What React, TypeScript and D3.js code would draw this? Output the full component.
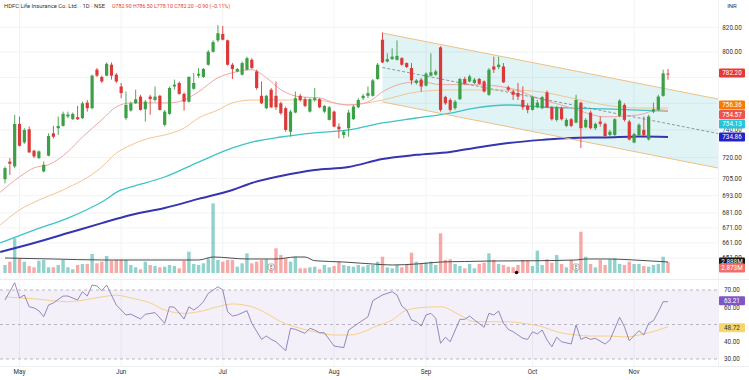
import React from 'react';
import * as d3 from 'd3';

const W = 749;
const H = 380;

const opens = [704.4,716.9,713.5,744.5,730.8,740.5,724.8,719.5,709.9,721.2,737.5,741.3,743.0,750.0,748.0,749.5,748.8,760.5,756.3,786.0,780.3,781.3,789.9,782.1,772.9,748.8,754.5,760.0,765.1,755.5,765.1,762.5,765.7,743.8,752.0,772.9,775.6,767.2,761.2,771.1,781.3,780.3,789.9,800.2,809.4,814.6,809.4,789.9,784.6,782.1,786.0,793.8,784.6,765.7,756.3,770.4,765.7,760.0,756.3,738.7,753.0,765.7,763.1,753.7,762.5,763.1,753.7,747.5,753.7,742.5,736.3,741.3,748.0,757.0,763.9,765.7,765.7,778.7,809.9,792.4,794.3,793.8,795.1,791.2,787.3,775.6,778.2,773.5,781.3,782.1,803.7,764.9,762.5,756.3,763.1,778.7,776.8,775.6,778.7,776.8,766.5,788.5,788.1,788.5,772.2,769.0,767.8,762.5,758.0,755.0,757.0,756.3,768.3,757.0,747.5,756.3,743.0,748.0,745.5,760.5,742.0,753.0,741.3,746.2,744.5,736.3,736.3,750.5,758.8,746.2,730.8,736.3,740.0,733.0,753.7,755.0,765.7,782.9];
const highs = [713.5,719.5,751.3,750.0,741.3,742.5,725.5,725.0,717.1,737.5,743.0,750.0,753.7,753.7,753.0,758.0,761.2,762.5,782.1,787.3,781.3,791.7,791.7,783.4,775.6,769.0,761.2,770.4,766.5,762.5,766.5,772.9,766.5,755.0,772.9,778.2,776.8,768.3,780.7,783.4,787.3,787.3,801.6,809.4,821.8,821.1,809.9,791.2,787.3,792.4,796.3,795.1,786.0,776.8,766.5,771.7,776.8,761.2,757.5,755.0,769.0,767.2,764.7,763.9,771.7,763.9,758.8,758.0,754.5,745.0,740.0,755.0,758.8,763.9,767.2,772.9,778.7,791.2,815.8,799.0,802.9,809.4,795.9,791.7,791.2,778.7,779.5,783.9,799.0,786.0,804.7,765.7,763.9,762.5,779.5,780.3,782.1,779.5,779.5,777.6,787.3,796.3,796.3,791.2,773.5,770.4,775.6,772.9,760.0,765.7,762.5,765.7,769.8,758.0,758.0,757.5,748.8,748.8,766.5,761.2,748.8,754.5,745.5,750.0,745.5,740.0,748.8,763.1,760.0,747.5,738.0,745.0,750.0,751.3,760.5,766.5,786.0,786.5];
const lows = [701.5,707.5,712.3,727.9,729.8,723.1,719.5,718.8,709.2,720.7,733.8,736.3,742.5,748.8,747.5,747.5,748.0,753.7,755.5,780.3,775.6,780.7,778.2,775.6,763.9,747.5,753.7,759.5,754.5,746.2,751.3,761.2,754.5,742.5,751.3,770.4,766.5,754.5,760.5,770.4,779.5,779.5,789.1,799.5,808.0,809.4,789.1,778.7,783.9,781.3,785.4,786.5,770.4,759.5,755.5,756.3,755.0,751.3,738.7,735.0,752.5,761.2,757.0,753.0,761.2,756.3,752.5,747.0,742.0,733.8,733.8,735.0,747.5,756.3,762.5,763.9,765.1,778.2,791.2,791.7,793.8,793.2,789.1,787.3,774.3,774.3,769.0,772.9,780.7,781.3,753.7,758.8,753.7,755.0,762.5,774.3,776.1,774.8,774.3,768.3,765.7,783.4,786.5,775.6,769.0,762.5,762.5,755.0,752.5,754.5,756.3,755.5,756.3,747.0,746.2,747.0,742.0,742.0,745.0,726.7,741.3,740.5,740.0,742.5,735.0,735.0,735.5,749.5,746.2,732.2,730.3,735.5,735.5,732.2,752.5,754.5,765.1,778.1];
const closes = [712.3,715.4,744.5,728.4,740.0,723.6,720.7,724.3,714.7,735.5,735.0,743.0,752.0,751.5,752.0,748.0,760.0,756.3,781.3,781.3,776.8,790.6,781.3,776.8,767.8,758.8,760.0,763.1,755.0,761.2,763.3,765.1,755.0,753.7,771.7,774.3,767.2,761.2,780.3,775.6,782.8,786.5,800.2,808.0,815.1,809.9,789.9,786.5,786.5,791.2,795.1,787.3,771.7,760.0,765.7,757.0,757.0,752.5,740.0,753.7,763.9,762.5,758.0,763.1,763.9,757.0,758.0,757.0,742.5,740.5,738.7,753.0,757.5,762.5,765.7,767.8,777.6,789.9,791.7,794.3,796.3,796.9,789.9,788.1,777.6,777.6,772.9,782.8,783.9,784.6,755.0,760.0,755.0,761.2,778.7,775.0,780.7,778.2,775.0,769.0,786.0,786.0,789.9,776.1,770.4,766.5,765.1,757.0,755.0,764.7,760.5,764.7,757.0,748.0,757.0,748.0,747.5,743.0,762.5,741.3,747.5,741.3,744.5,744.5,735.5,738.7,748.0,762.0,747.5,733.0,737.0,743.8,736.3,750.0,755.5,765.1,783.1,782.2];
const volumes = [2.10,2.96,9.09,3.85,2.96,1.83,1.49,3.22,3.41,1.49,1.49,2.10,3.41,1.49,0.97,2.10,2.36,2.36,4.98,2.54,2.96,4.45,3.22,3.41,3.41,3.41,2.10,1.49,0.97,2.96,2.10,1.83,1.49,1.65,2.10,1.83,1.23,3.22,5.58,2.36,2.10,2.54,3.85,18.26,3.41,2.96,3.41,3.41,1.65,2.54,5.16,2.54,2.96,3.41,3.59,1.65,6.47,4.72,3.85,2.96,4.27,1.23,1.23,1.49,1.65,0.97,2.10,1.49,1.83,2.96,2.10,1.83,1.65,2.10,1.65,2.10,2.10,2.96,4.27,1.49,1.23,2.10,1.49,2.10,5.32,2.96,2.36,2.70,2.96,2.10,10.40,3.41,3.59,2.36,1.83,1.23,2.36,1.23,2.36,2.70,5.16,3.41,2.36,2.10,1.65,1.49,2.10,3.41,3.22,1.83,5.84,2.10,3.59,2.70,4.72,2.36,1.49,3.41,2.36,10.82,4.27,2.36,1.49,3.41,2.10,3.59,3.85,2.36,2.10,2.96,2.36,2.36,1.83,1.65,2.10,2.36,4.27,2.873];

// moving averages: [bar index, value]
const ema20: [number, number][] = [[-1,695.3],[3,706.1],[6,712.5],[9,714.7],[13,724.1],[16,734.8],[20,747.5],[23,757.3],[26,760.3],[30,760.3],[34,760.3],[37,762.5],[40,768.8],[44,779.7],[47,783.6],[51,786.0],[54,779.7],[57,770.4],[61,764.9],[65,764.1],[68,760.3],[71,758.8],[75,761.0],[78,768.8],[83,775.8],[86,776.6],[90,774.3],[97,774.3],[104,771.9],[110,764.1],[117,756.5],[124,749.8],[131,751.3],[135,755.0],[137,754.57]];
const ema50: [number, number][] = [[-1,672.9],[3,683.1],[7,689.9],[12,696.9],[20,713.1],[23,723.1],[26,728.9],[30,734.1],[33,736.3],[37,741.4],[40,748.9],[44,754.9],[47,760.3],[51,762.5],[57,762.5],[64,762.5],[71,758.7],[78,762.5],[85,768.6],[92,770.2],[97,770.2],[104,770.2],[111,768.6],[117,764.0],[124,758.7],[131,756.4],[137,756.36]];
const ema100: [number, number][] = [[-1,660.9],[6,669.5],[13,677.6],[20,688.6],[24,696.9],[26,699.0],[33,706.0],[40,716.6],[47,726.8],[51,731.1],[57,734.8],[64,737.8],[71,740.0],[78,745.2],[85,748.9],[92,752.6],[97,756.4],[104,758.7],[111,757.2],[117,756.4],[124,755.7],[131,754.9],[137,754.13]];
const ema200: [number, number][] = [[-1,655.0],[6,660.9],[13,667.5],[20,674.2],[26,679.7],[33,684.5],[40,690.7],[47,696.9],[51,701.8],[57,706.7],[64,711.0],[71,713.1],[78,718.8],[85,721.8],[92,723.9],[97,726.8],[104,730.4],[111,732.7],[117,734.1],[124,734.5],[131,735.2],[137,734.86]];
const volMa: [number, number][] = [[0,3.93],[10,3.67],[20,3.41],[30,3.41],[40,3.41],[43,4.19],[50,3.67],[56,3.67],[60,4.19],[62,4.19],[64,3.22],[70,2.88],[76,2.36],[80,2.10],[85,2.36],[90,2.88],[95,3.01],[100,3.14],[110,3.22],[118,3.41],[120,3.67],[125,3.67],[130,3.41],[137,2.888]];
const rsi: [number, number][] = [[0,64.2],[2,74.2],[3,65.4],[4,67.1],[5,60.3],[6,59.6],[7,58],[8,54.5],[9,61.3],[10,62.5],[12,66.5],[13,66.5],[15,64.2],[16,69],[17,66.5],[18,72.9],[19,72.3],[20,69.6],[21,72.9],[22,67.1],[23,61.3],[25,55.5],[26,56],[28,53.2],[29,55.9],[31,56.9],[33,50.7],[34,60.3],[35,60],[37,53.2],[38,60.3],[39,58.4],[40,60.3],[41,63.2],[42,68],[44,71.9],[45,70],[46,57.4],[47,54.9],[48,55.5],[50,58],[51,50.7],[53,41.4],[54,43.3],[55,41.4],[56,40],[58,34.8],[59,47.8],[60,47.2],[62,44.9],[63,47.8],[64,46.8],[65,45.2],[66,45.2],[68,37.5],[70,36.6],[71,46.8],[73,50.7],[75,54.5],[76,63.8],[78,67.1],[80,69],[81,67.1],[82,60.7],[83,58.4],[84,52.6],[85,51.6],[86,49.1],[87,55.5],[88,56.5],[89,53.6],[90,39.1],[91,42.6],[92,40],[94,53],[95,53],[96,54.9],[97,52.6],[99,48.4],[100,56.5],[101,55.5],[102,57.8],[103,50.7],[104,47.2],[105,45.8],[107,42],[108,41.4],[109,45.8],[110,44.5],[111,46.8],[112,41],[113,37.1],[114,42.6],[115,40],[117,38.7],[118,49.7],[119,41.4],[120,42.6],[121,41.4],[122,42],[124,38.7],[125,41],[127,54.2],[128,48.7],[129,40.6],[131,46.4],[132,43.9],[133,50.7],[134,52.2],[135,57.4],[136,63.2],[137,63.21]];
const rsiMa: [number, number][] = [[0,66],[6,64.9],[13,63.2],[20,66],[23,67],[26,65.4],[30,62.5],[33,58.4],[37,56.5],[40,57.4],[44,60.3],[47,61.9],[51,60.3],[54,56.5],[57,51.6],[61,47.8],[64,45.8],[68,43.9],[71,43.9],[75,46.8],[76,48.2],[80,52.6],[83,58.4],[87,60],[90,60.3],[94,55.5],[97,51.6],[101,51.6],[104,51.6],[107,50.7],[111,48.7],[114,45.8],[118,43.9],[121,43.3],[125,43.3],[128,42.8],[132,44.5],[135,46.8],[137,48.72]];

// regression channel (start bar, end bar, prices)
const channelBars = [78, 147.3];
const channelUpper = [815.3, 763.3];
const channelLower = [761.0, 712.4];

const priceTicks = [820, 800, 760, 740, 720, 705, 693, 681, 671, 661, 651];
const gridTicks = [820, 800, 780, 760, 740, 720, 705, 693, 681, 671, 661, 651];
const rsiTicks = [70, 60, 40, 30];
const monthTicks: [string, number][] = [['May', 3], ['Jun', 24], ['Jul', 45], ['Aug', 68], ['Sep', 87], ['Oct', 109], ['Nov', 130]];
const earningsBars = [55, 118];
const dividendBars = [105.7];

const title = 'HDFC Life Insurance Co. Ltd. · 1D · NSE';
const ohlcText = 'O782.90 H786.50 L778.10 C782.20 −0.90 (−0.11%)';

const UP = '#3d9f46';
const DOWN = '#dc3a3a';

export default function App() {
  const plotR = 718;
  const x = d3.scaleLinear().domain([0, 137]).range([5, 668]);
  const yP = d3.scaleLog().domain([800, 720]).range([52, 52 + 1000 * Math.log(800 / 720)]);
  const yV = d3.scaleLinear().domain([0, 20]).range([273, 273 - 76.3]);
  const yR = d3.scaleLinear().domain([30, 70]).range([359, 290]);

  const maLine = d3.line<[number, number]>().x(d => x(d[0])).y(d => yP(d[1])).curve(d3.curveMonotoneX);
  const volLine = d3.line<[number, number]>().x(d => x(d[0])).y(d => yV(d[1])).curve(d3.curveMonotoneX);
  const rsiLine = d3.line<[number, number]>().x(d => x(d[0])).y(d => yR(d[1]));
  const rsiMaLine = d3.line<[number, number]>().x(d => x(d[0])).y(d => yR(d[1])).curve(d3.curveMonotoneX);

  const cx0 = x(channelBars[0]), cx1 = x(channelBars[1]);
  const uy0 = yP(channelUpper[0]), uy1 = yP(channelUpper[1]);
  const ly0 = yP(channelLower[0]), ly1 = yP(channelLower[1]);
  const mid0 = yP(Math.sqrt(channelUpper[0] * channelLower[0]));
  const mid1 = yP(Math.sqrt(channelUpper[1] * channelLower[1]));

  const font = 'Roboto, "Noto Sans", sans-serif';
  const axisX = 732;

  const label = (yc: number, text: string, bg: string, fg = '#fff', key?: string) => (
    <g key={key || text}>
      <rect x={719} y={yc - 4.5} width={26} height={9} rx={1} fill={bg} />
      <text x={axisX} y={yc + 2.3} fontSize={6.3} fill={fg} textAnchor="middle">{text}</text>
    </g>
  );

  return (
    <svg width={W} height={H} style={{ position: 'absolute', left: 0, top: 0, background: '#fff' }} fontFamily={font}>
      <defs>
        <clipPath id="pricePane"><rect x={0} y={12} width={plotR} height={267} /></clipPath>
        <clipPath id="rsiPane"><rect x={0} y={280} width={plotR} height={86} /></clipPath>
      </defs>
      <rect x={0} y={0} width={W} height={H} fill="#fff" />
      {/* grid */}
      {gridTicks.map(t => (
        <line key={'g' + t} x1={0} x2={plotR} y1={yP(t)} y2={yP(t)} stroke="#f2f3f6" strokeWidth={1} />
      ))}
      {monthTicks.map(([m, i]) => (
        <line key={'v' + m} x1={x(i)} x2={x(i)} y1={0} y2={366} stroke="#f2f3f6" strokeWidth={1} />
      ))}
      {/* price pane */}
      <g clipPath="url(#pricePane)">
        {volumes.map((v, i) => (
          <rect key={'vol' + i} x={x(i) - 1.7} y={yV(v)} width={3.4} height={273 - yV(v)}
            fill={closes[i] >= opens[i] ? 'rgba(38,166,154,0.5)' : 'rgba(239,83,80,0.5)'} />
        ))}
        <path d={volLine(volMa) || ''} fill="none" stroke="#3a3a3a" strokeWidth={0.9} />
        {earningsBars.map(b => (
          <g key={'e' + b}>
            <rect x={x(b) - 3} y={264} width={6} height={6} rx={1.5} fill="#fff" stroke="#888" strokeWidth={0.7} />
            <text x={x(b)} y={269} fontSize={4.5} textAnchor="middle" fill="#666">E</text>
          </g>
        ))}
        {dividendBars.map(b => <circle key={'d' + b} cx={x(b)} cy={272.5} r={1.8} fill="#111" />)}
        <polygon points={`${cx0},${uy0} ${cx1},${uy1} ${cx1},${ly1} ${cx0},${ly0}`} fill="rgba(0,160,170,0.12)" />
        <path d={maLine(ema200) || ''} fill="none" stroke="#3535b0" strokeWidth={2} />
        <path d={maLine(ema100) || ''} fill="none" stroke="#3fc3c6" strokeWidth={1.3} />
        <path d={maLine(ema50) || ''} fill="none" stroke="#f3c592" strokeWidth={1} />
        <path d={maLine(ema20) || ''} fill="none" stroke="#f2a5a5" strokeWidth={1} />
        <line x1={cx0} y1={mid0} x2={cx1} y2={mid1} stroke="#7b7e88" strokeWidth={0.8} strokeDasharray="3,2" />
        <line x1={cx0} y1={uy0} x2={cx1} y2={uy1} stroke="#efc084" strokeWidth={1} />
        <line x1={cx0} y1={ly0} x2={cx1} y2={ly1} stroke="#efc084" strokeWidth={1} />
        {opens.map((o, i) => {
          const c = closes[i];
          const col = c >= o ? UP : DOWN;
          const top = yP(Math.max(o, c));
          const bot = yP(Math.min(o, c));
          return (
            <g key={'c' + i}>
              <line x1={x(i)} x2={x(i)} y1={yP(highs[i])} y2={yP(lows[i])} stroke={col} strokeWidth={0.9} />
              <rect x={x(i) - 1.6} y={top} width={3.2} height={Math.max(0.9, bot - top)} fill={col} />
            </g>
          );
        })}
      </g>
      {/* rsi pane */}
      <g clipPath="url(#rsiPane)">
        <rect x={0} y={yR(70)} width={plotR} height={yR(30) - yR(70)} fill="rgba(126,87,194,0.09)" />
        {[70, 50, 30].map(t => (
          <line key={'rl' + t} x1={0} x2={plotR} y1={yR(t)} y2={yR(t)} stroke="#a8a6b8" strokeWidth={0.8} strokeDasharray="3,3" />
        ))}
        <path d={rsiMaLine(rsiMa) || ''} fill="none" stroke="#f6d08a" strokeWidth={1} />
        <path d={rsiLine(rsi) || ''} fill="none" stroke="#8a7bb8" strokeWidth={0.9} />
      </g>
      {/* separators */}
      <line x1={0} x2={W} y1={279.5} y2={279.5} stroke="#eceef2" strokeWidth={1} />
      <line x1={plotR + 0.5} x2={plotR + 0.5} y1={0} y2={366} stroke="#f0f1f4" strokeWidth={1} />
      <line x1={0} x2={W} y1={366.5} y2={366.5} stroke="#eceef2" strokeWidth={1} />
      {/* header */}
      <text x={4} y={8} fontSize={5.6} fill="#333" textLength={101} lengthAdjust="spacingAndGlyphs">{title}</text>
      <text x={112} y={8} fontSize={5.6} fill="#e53935" textLength={118} lengthAdjust="spacingAndGlyphs">{ohlcText}</text>
      <text x={axisX} y={8} fontSize={6} fill="#333" textAnchor="middle">INR</text>
      {/* price axis */}
      {priceTicks.map(t => (
        <text key={'pt' + t} x={axisX} y={yP(t) + 2.3} fontSize={6.3} fill="#333" textAnchor="middle">{t.toFixed(2)}</text>
      ))}
      {rsiTicks.map(t => (
        <text key={'rt' + t} x={axisX} y={yR(t) + 2.3} fontSize={6.3} fill="#333" textAnchor="middle">{t.toFixed(2)}</text>
      ))}
      {label(yP(closes[137]) - 1.5, closes[137].toFixed(2), '#e53935')}
      {label(yP(ema50[ema50.length - 1][1]) - 3, ema50[ema50.length - 1][1].toFixed(2), '#f57c00')}
      {label(yP(ema20[ema20.length - 1][1]) + 4, ema20[ema20.length - 1][1].toFixed(2), '#ef5350')}
      {label(yP(ema100[ema100.length - 1][1]) + 13, ema100[ema100.length - 1][1].toFixed(2), '#26c6da')}
      {label(yP(ema200[ema200.length - 1][1]), ema200[ema200.length - 1][1].toFixed(2), '#2222c8')}
      {label(yV(volMa[volMa.length - 1][1]), volMa[volMa.length - 1][1].toFixed(3) + 'M', '#131722')}
      {label(yV(volumes[137]) + 6, volumes[137].toFixed(3) + 'M', '#ef6f6f')}
      {label(yR(rsi[rsi.length - 1][1]) - 1, rsi[rsi.length - 1][1].toFixed(2), '#7e57c2')}
      {label(yR(rsiMa[rsiMa.length - 1][1]) + 1, rsiMa[rsiMa.length - 1][1].toFixed(2), '#f5d76e', '#333')}
      {/* time axis */}
      {monthTicks.map(([m, i]) => (
        <text key={'m' + m} x={x(i)} y={374} fontSize={6.3} fill="#333" textAnchor="middle">{m}</text>
      ))}
    </svg>
  );
}
